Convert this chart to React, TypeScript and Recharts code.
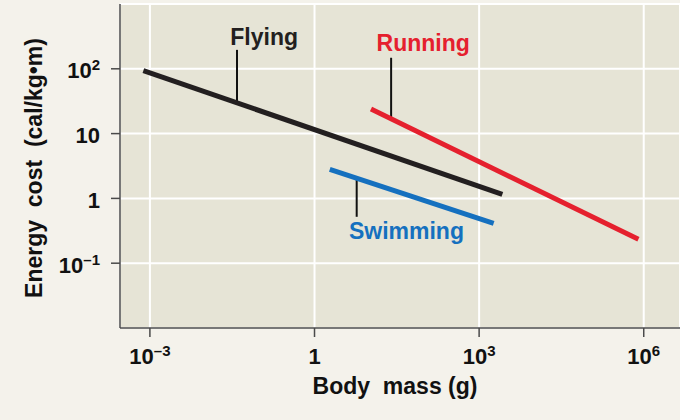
import React from 'react';
import { LineChart, Line, XAxis, YAxis, CartesianGrid, ReferenceLine, ReferenceDot } from 'recharts';

// Tick values and labels
const xTicks = [1e-3, 1, 1e3, 1e6];
const xTickLabels = [['10', '–3'], ['1', ''], ['10', '3'], ['10', '6']];
const yTicks = [0.1, 1, 10, 100];
const yTickLabels = [['10', '–1'], ['1', ''], ['10', ''], ['10', '2']];

// Series (body mass g, energy cost cal/kg·m)
const flying = [{ x: 0.00076, y: 94 }, { x: 2650, y: 1.15 }];
const running = [{ x: 10.7, y: 24 }, { x: 800000, y: 0.234 }];
const swimming = [{ x: 1.9, y: 2.8 }, { x: 1840, y: 0.41 }];

// Leader lines (x, yTop, yBottom)
const flyingLeader = { x: 0.0387, y1: 196, y2: 30 };
const runningLeader = { x: 24.9, y1: 148, y2: 17 };
const swimmingLeader = { x: 5.87, y1: 2.0, y2: 0.52 };

// Series labels (anchor: centre x, baseline y)
const seriesLabels = [
  { x: 0.121, y: 235, text: 'Flying', color: '#231f20' },
  { x: 95.5, y: 186, text: 'Running', color: '#e5202e' },
  { x: 47.4, y: 0.235, text: 'Swimming', color: '#1570bf' },
];

const FONT = '"Liberation Sans", Arial, Helvetica, sans-serif';
const AXIS = '#4a4a4a';

const xDomain = [Math.pow(10, -3.545), Math.pow(10, 6.661)];
const yDomain = [0.01, 1000];

function findLabel(ticks: number[], labels: string[][], v: number) {
  const i = ticks.findIndex((t) => Math.abs(Math.log10(t) - Math.log10(v)) < 1e-6);
  return i >= 0 ? labels[i] : [String(v), ''];
}

function XTick(props: any) {
  const { x, y, payload } = props;
  const [base, exp] = findLabel(xTicks, xTickLabels, payload.value);
  return (
    <text x={x} y={y + 27} textAnchor="middle" fontFamily={FONT} fontWeight="bold" fontSize={22} fill="#111">
      <tspan>{base}</tspan>
      {exp ? <tspan dy={-8} fontSize={15}>{exp}</tspan> : null}
    </text>
  );
}

function YTick(props: any) {
  const { x, y, payload } = props;
  const [base, exp] = findLabel(yTicks, yTickLabels, payload.value);
  return (
    <text x={x} y={y + 9.5} textAnchor="end" fontFamily={FONT} fontWeight="bold" fontSize={22} fill="#111">
      <tspan>{base}</tspan>
      {exp ? <tspan dy={-8} fontSize={15}>{exp}</tspan> : null}
    </text>
  );
}

const XTitle = (props: any) => {
  const vb = props.viewBox || { x: 120, y: 328, width: 560 };
  return (
    <text x={vb.x + vb.width / 2 - 5} y={vb.y + 66} textAnchor="middle" fontFamily={FONT} fontWeight="bold" fontSize={23} fill="#111" style={{ whiteSpace: 'pre' }}>
      {'Body  mass (g)'}
    </text>
  );
};

const YTitle = (props: any) => {
  const vb = props.viewBox || { x: 0, y: 4, height: 324 };
  const cx = 42;
  const cy = vb.y + vb.height / 2 + 2;
  return (
    <text x={cx} y={cy} transform={`rotate(-90 ${cx} ${cy})`} textAnchor="middle" fontFamily={FONT} fontWeight="bold" fontSize={23} fill="#111" style={{ whiteSpace: 'pre' }}>
      {'Energy  cost  (cal/kg•m)'}
    </text>
  );
};

const leaders = [flyingLeader, runningLeader, swimmingLeader];

export default function App() {
  return (
    <div style={{ position: 'absolute', left: 0, top: 0, width: 680, height: 420, background: '#f4f2eb' }}>
      <LineChart width={680} height={420} margin={{ top: 4, right: 0, bottom: 0, left: 0 }}>
        <CartesianGrid fill="#e6e4d6" stroke="#ffffff" strokeWidth={2} />
        <XAxis
          type="number"
          dataKey="x"
          scale="log"
          domain={xDomain}
          allowDataOverflow
          ticks={xTicks}
          interval={0}
          height={92}
          tickSize={9}
          tickMargin={0}
          axisLine={{ stroke: AXIS, strokeWidth: 1.5 }}
          tickLine={{ stroke: AXIS, strokeWidth: 1.5 }}
          tick={<XTick />}
          label={<XTitle />}
        />
        <YAxis
          type="number"
          dataKey="y"
          scale="log"
          domain={yDomain}
          allowDataOverflow
          ticks={yTicks}
          interval={0}
          width={120}
          tickSize={9}
          tickMargin={11}
          axisLine={{ stroke: AXIS, strokeWidth: 1.5 }}
          tickLine={{ stroke: AXIS, strokeWidth: 1.5 }}
          tick={<YTick />}
          label={<YTitle />}
        />
        {leaders.map((l, i) => (
          <ReferenceLine
            key={'ld' + i}
            segment={[{ x: l.x, y: l.y1 }, { x: l.x, y: l.y2 }]}
            stroke="#111"
            strokeWidth={2}
          />
        ))}
        <Line data={flying} dataKey="y" stroke="#231f20" strokeWidth={5} dot={false} isAnimationActive={false} />
        <Line data={running} dataKey="y" stroke="#e5202e" strokeWidth={5} dot={false} isAnimationActive={false} />
        <Line data={swimming} dataKey="y" stroke="#1570bf" strokeWidth={5} dot={false} isAnimationActive={false} />
        {seriesLabels.map((s) => (
          <ReferenceDot
            key={s.text}
            x={s.x}
            y={s.y}
            r={0}
            shape={(p: any) => (
              <text x={p.cx} y={p.cy} textAnchor="middle" fontFamily={FONT} fontWeight="bold" fontSize={23} fill={s.color}>
                {s.text}
              </text>
            )}
          />
        ))}
      </LineChart>
    </div>
  );
}
